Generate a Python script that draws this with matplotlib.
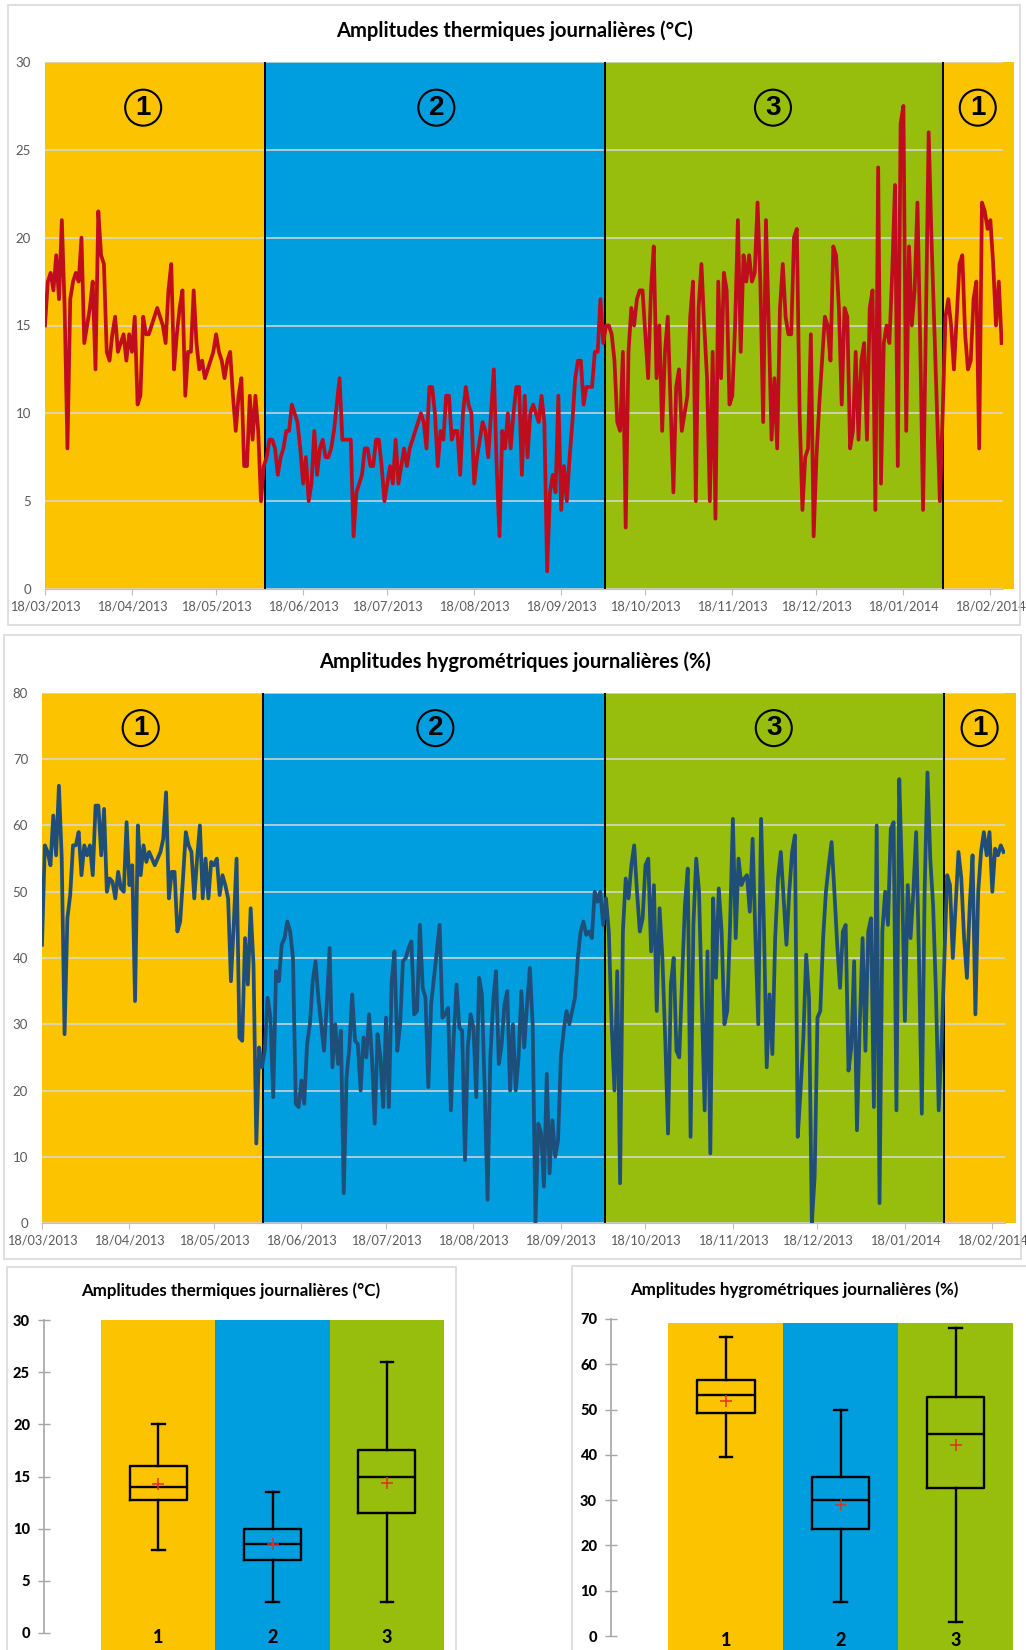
import numpy as np
import pandas as pd
import matplotlib
matplotlib.use('Agg')
import matplotlib.pyplot as plt
import matplotlib.dates as mdates
from matplotlib.patches import Rectangle

plt.rcParams['font.family'] = ['Lato', 'DejaVu Sans']

# ---------------------------------------------------------------- data
start = '2013-03-18'
# limites des saisons : 1 -> 2, 2 -> 3, 3 -> 1, fin de la derniere bande
limits = ['2013-06-04 12:00', '2013-10-03 12:00', '2014-02-01 00:00', '2014-02-26 12:00']
season_order = [1, 2, 3, 1]

# amplitudes thermiques journalieres (degC), une valeur par jour
temp_amp = [
    # saison 1
    15, 17.5, 18, 17, 19, 16.5, 21, 16, 8, 16.5,
    17.5, 18, 17.5, 20, 14, 15, 16, 17.5, 12.5, 21.5,
    19, 18.5, 13.5, 13, 14.5, 15.5, 13.5, 14, 14.5, 13,
    14.5, 13.5, 15.5, 10.5, 11, 15.5, 14.5, 14.5, 15, 15.5,
    16, 15.5, 15, 14, 17, 18.5, 12.5, 14.5, 16, 17,
    11, 13.5, 13.5, 17, 14, 12.5, 13, 12, 12.5, 13,
    13.5, 14.5, 13.5, 13, 12, 13, 13.5, 11, 9, 11,
    12, 7, 7, 11, 8.5, 11, 9, 5, 7,
    # saison 2
    7.5, 8.5, 8.5, 8, 6.5, 7.5, 8, 9, 9, 10.5,
    10, 9.5, 8, 6, 7.5, 5, 6, 9, 6.5, 8,
    8.5, 7.5, 7.5, 8, 9, 10.5, 12, 8.5, 8.5, 8.5,
    8.5, 3, 5.5, 6, 6.5, 8, 8, 7, 7, 8.5,
    8.5, 7, 5, 6, 7, 6, 8.5, 6, 7, 8,
    7, 8, 8.5, 9, 9.5, 10, 9.5, 8, 11.5, 11.5,
    10, 7, 9, 8.5, 11, 11, 8.5, 9, 9, 6.5,
    10, 11.5, 10.5, 10, 6, 7.5, 8.5, 9.5, 9, 7.5,
    10, 12.5, 7, 3, 9, 8, 10, 8, 10, 11.5,
    11.5, 6.5, 11, 7.5, 10, 10.5, 10, 9.5, 11, 9.5,
    1, 5.5, 6.5, 5.5, 11, 4.5, 7, 5, 7.5, 9.5,
    12, 13, 13, 10.5, 11.5, 11.5, 11.5, 13.5, 13.5, 16.5,
    14,
    # saison 3
    15, 15, 14.5, 13, 9.5, 9, 13.5, 3.5, 13.5, 16,
    15, 16.5, 17, 17, 14.5, 12, 17, 19.5, 12, 15,
    9, 13.5, 15.5, 10.5, 5.5, 11.5, 12.5, 9, 10, 11,
    15.5, 17.5, 5, 16, 18.5, 15, 12, 5, 13.5, 4,
    17.5, 12, 18, 17, 10.5, 11, 15, 21, 13.5, 19,
    17.5, 19, 17.5, 18, 22, 17.5, 9.5, 21, 15, 8.5,
    12, 8, 16, 18.5, 15.5, 14.5, 14.5, 20, 20.5, 10,
    4.5, 7.5, 8, 14.5, 3, 7.5, 10.5, 13, 15.5, 15,
    13, 19.5, 19, 16, 10.5, 16, 15.5, 8, 9, 13.5,
    8.5, 13, 14, 8.5, 16, 17, 4.5, 24, 6, 14,
    15, 14, 18, 23, 7, 26.5, 27.5, 9, 19.5, 15,
    17, 22, 14, 4.5, 15, 26, 20, 15, 10, 5,
    # saison 1 (fevrier)
    10, 15.5, 16.5, 15, 12.5, 15.5, 18.5, 19, 14.5, 12.5,
    13, 16.5, 17.5, 8, 22, 21.5, 20.5, 21, 18.5, 15,
    17.5, 14,
]

# amplitudes hygrometriques journalieres (%), une valeur par jour
hygro_amp = [
    # saison 1
    42, 57, 56, 54, 61.5, 55.5, 66, 55, 28.5, 46,
    49.5, 57, 57, 59, 52.5, 57, 55.5, 57, 52.5, 63,
    63, 55.5, 62.5, 50, 52, 51.5, 49, 53, 50.5, 50,
    60.5, 51, 54, 33.5, 60, 52.5, 57, 54.5, 56, 55,
    54, 55, 56, 58, 65, 49, 53, 53, 44, 45.5,
    52, 59, 57, 56, 49, 55, 60, 49, 55, 49,
    54.5, 54, 55, 49.5, 52.5, 51, 49, 36.5, 45, 55,
    28, 27.5, 43, 36, 47.5, 39, 12, 26.5, 23.5,
    # saison 2
    26, 34, 31, 19, 38, 36.5, 42, 43, 45.5, 44,
    40, 18, 17.5, 21.5, 18, 27, 30, 36.5, 39.5, 34,
    30, 26, 33, 41.5, 23.5, 30, 24, 29, 4.5, 22,
    26.5, 34.5, 27.5, 27, 20, 28, 25, 31.5, 25, 15,
    28.5, 25, 17.5, 31, 17.5, 36.5, 41, 26, 30, 39.5,
    40, 41.5, 42.5, 31.5, 32, 45, 35.5, 34, 20.5, 33,
    37, 41, 45, 31, 31.5, 32.5, 17, 28, 36, 29.5,
    29, 9.5, 26.5, 31.5, 29.5, 19, 37, 34.5, 20, 3.5,
    25, 33.5, 38, 24, 27, 33, 35, 20, 30,
    20, 25, 35, 26.5, 33, 38.5, 30, 0, 15, 13.5,
    5.5, 22.5, 7.5, 15.5, 10, 12.5, 25, 29, 32, 30,
    32, 34, 40, 44, 45.5, 43.5, 44, 43, 50, 48.5,
    50, 45,
    # saison 3
    49, 44, 30, 20, 38, 6, 44, 52, 49, 54,
    57, 50, 44, 46, 54, 55, 41, 51, 32, 47.5,
    40, 28, 13.5, 36, 40, 26, 25, 37, 48, 53.5,
    13, 45, 55, 50, 33, 17, 41, 10.5, 49, 37,
    50.5, 44, 30, 32, 45, 61, 43, 55, 51, 52,
    52.5, 47, 58, 43, 30, 61, 45, 23.5, 34.5, 25.5,
    43, 52, 56, 49, 42, 50, 56, 58.5, 13, 20,
    28, 40.5, 34, 0, 7, 31, 32, 43, 50, 54,
    57.5, 50, 42, 35.5, 44, 45, 23, 26.5, 39.5, 14,
    30, 43, 26, 44, 46, 17.5, 60, 3, 44, 50,
    45, 59.5, 60.5, 17, 67, 52, 30.5, 51, 43, 50,
    59, 40, 16.5, 50, 68, 55, 48, 35, 17, 27,
    # saison 1 (fevrier)
    40, 52.5, 51, 40, 48, 56, 52, 43, 37, 48,
    55.5, 31.5, 50, 56, 59, 55.5, 59, 50, 56.5, 55.5,
    57, 56,
]

# boites a moustaches par saison (1, 2, 3)
box_seasons = ['1', '2', '3']
temp_lo = [8, 3, 3]
temp_q1 = [12.75, 7, 11.5]
temp_med = [14, 8.5, 15]
temp_q3 = [16, 10, 17.5]
temp_hi = [20, 13.5, 26]
temp_mean = [14.3, 8.55, 14.4]

hygro_lo = [39.5, 7.4, 3.2]
hygro_q1 = [49.2, 23.6, 32.6]
hygro_med = [53.1, 30.1, 44.7]
hygro_q3 = [56.5, 35.2, 52.8]
hygro_hi = [65.9, 49.8, 67.9]
hygro_mean = [51.9, 29.0, 42.2]

# ---------------------------------------------------------------- style
season_colors = {1: '#FBC300', 2: '#009DDF', 3: '#97BE0D'}
grid_col = '#D9D9D9'
tick_col = '#595959'
frame_col = '#D9D9D9'

W, H = 1026, 1650
fig = plt.figure(figsize=(W / 100, H / 100), dpi=100)


def px_axes(left, top, right, bottom):
    return fig.add_axes([left / W, 1 - bottom / H, (right - left) / W, (bottom - top) / H])


def frame(left, top, right, bottom):
    fig.patches.append(Rectangle((left / W, 1 - bottom / H), (right - left) / W, (bottom - top) / H,
                                 transform=fig.transFigure, fill=False, ec=frame_col, lw=1.2))


dates = pd.date_range(start, periods=len(temp_amp), freq='D')
edges = [pd.Timestamp(start)] + [pd.Timestamp(x) for x in limits]
label_days = [35, 139.5, 259.5, 332.5]
month_ticks = [pd.Timestamp(start) + pd.DateOffset(months=k) for k in range(12)]


def series_chart(ax, values, color, ymax, step, circle_y):
    for i, s in enumerate(season_order):
        ax.axvspan(edges[i], edges[i + 1], color=season_colors[s], lw=0, zorder=0, clip_on=False)
    for e in edges[1:4]:
        ax.axvline(e, color='black', lw=1.4, zorder=2)
    ax.plot(dates, values, color=color, lw=2.7, zorder=3, solid_joinstyle='round')
    for d, s in zip(label_days, season_order):
        ax.text(pd.Timestamp(start) + pd.Timedelta(days=d), circle_y, str(s), fontsize=20,
                fontweight='bold', family=['Liberation Sans'], ha='center', va='center', zorder=4,
                bbox=dict(boxstyle='circle,pad=0.18', fc='none', ec='black', lw=1.5))
    ax.set_ylim(0, ymax)
    ax.set_xlim(pd.Timestamp(start), pd.Timestamp(start) + pd.Timedelta(days=341.5))
    ax.set_yticks(np.arange(0, ymax + 1, step))
    ax.yaxis.grid(True, color=grid_col, lw=1.1)
    ax.set_axisbelow(True)
    for sp in ['top', 'right', 'left']:
        ax.spines[sp].set_visible(False)
    ax.spines['bottom'].set_color('#BFBFBF')
    ax.set_xticks(month_ticks)
    ax.xaxis.set_major_formatter(mdates.DateFormatter('%d/%m/%Y'))
    ax.tick_params(axis='y', length=0, pad=10, labelsize=9.5, labelcolor=tick_col)
    ax.tick_params(axis='x', length=4, color='#BFBFBF', pad=4, labelsize=9.2, labelcolor=tick_col)
    ax.set_facecolor('none')


# ---- courbe des amplitudes thermiques
frame(8, 5, 1020, 625)
fig.text(515 / W, 1 - 31 / H, 'Amplitudes thermiques journalières (°C)', ha='center', va='center',
         fontsize=14.5, fontweight='bold')
ax1 = px_axes(45, 62, 1003, 589)
series_chart(ax1, temp_amp, '#C00D1E', 30, 5, 27.4)

# ---- courbe des amplitudes hygrometriques
frame(4, 635, 1021, 1259)
fig.text(515 / W, 1 - 662 / H, 'Amplitudes hygrométriques journalières (%)', ha='center', va='center',
         fontsize=14.5, fontweight='bold')
ax2 = px_axes(42, 693, 1005, 1223)
series_chart(ax2, hygro_amp, '#1F4E79', 80, 10, 74.7)


# ---- boites a moustaches
def box_chart(ax, lo, q1, med, q3, hi, mean, band_top, ymax, ybot, step, lab_y):
    pos = np.arange(1, len(box_seasons) + 1)
    ax.bar(pos, band_top - ybot, bottom=ybot, width=1.0,
           color=[season_colors[int(s)] for s in box_seasons], lw=0, zorder=0)
    stats = [dict(whislo=a, q1=b, med=c, q3=d, whishi=e, mean=f, fliers=[])
             for a, b, c, d, e, f in zip(lo, q1, med, q3, hi, mean)]
    lp = dict(color='black', lw=1.7)
    ax.bxp(stats, positions=pos, widths=0.5, capwidths=0.11, showmeans=True, showfliers=False,
           boxprops=lp, whiskerprops=lp, capprops=lp, medianprops=lp,
           meanprops=dict(marker='+', markeredgecolor='#E03020', markersize=9, markeredgewidth=1.1),
           manage_ticks=False, zorder=2)
    for p, s in zip(pos, box_seasons):
        ax.text(p, lab_y, s, ha='center', va='center', fontsize=13, fontweight='black')
    ax.set_xlim(0, 3.5)
    ax.set_ylim(ybot, ymax)
    ax.set_xticks([])
    ticks = np.arange(0, ymax + 0.01, step)
    ax.set_yticks(ticks, labels=[f'{t:g}' for t in ticks], fontweight='black', fontsize=10.5,
                  color='black')
    for sp in ['top', 'right', 'bottom']:
        ax.spines[sp].set_visible(False)
    ax.spines['left'].set_bounds(0, ticks[-1])
    ax.spines['left'].set_color('#A6A6A6')
    ax.spines['left'].set_linewidth(1.2)
    ax.tick_params(axis='y', direction='inout', length=8, color='#A6A6A6', width=1, pad=6)
    ax.set_facecolor('none')


frame(7, 1267, 456, 1670)
fig.text(231 / W, 1 - 1291 / H, 'Amplitudes thermiques journalières (°C)', ha='center', va='center',
         fontsize=12.2, fontweight='bold')
ax3 = px_axes(44, 1319, 444, 1650)
box_chart(ax3, temp_lo, temp_q1, temp_med, temp_q3, temp_hi, temp_mean,
          30, 30.1, -1.63, 5, -0.45)

frame(572, 1266, 1040, 1670)
fig.text(794 / W, 1 - 1290 / H, 'Amplitudes hygrométriques journalières (%)', ha='center', va='center',
         fontsize=12.2, fontweight='bold')
ax4 = px_axes(611, 1318, 1013, 1650)
box_chart(ax4, hygro_lo, hygro_q1, hygro_med, hygro_q3, hygro_hi, hygro_mean,
          69.2, 70.2, -3.09, 10, -0.9)

fig.savefig('out.png', dpi=100)
